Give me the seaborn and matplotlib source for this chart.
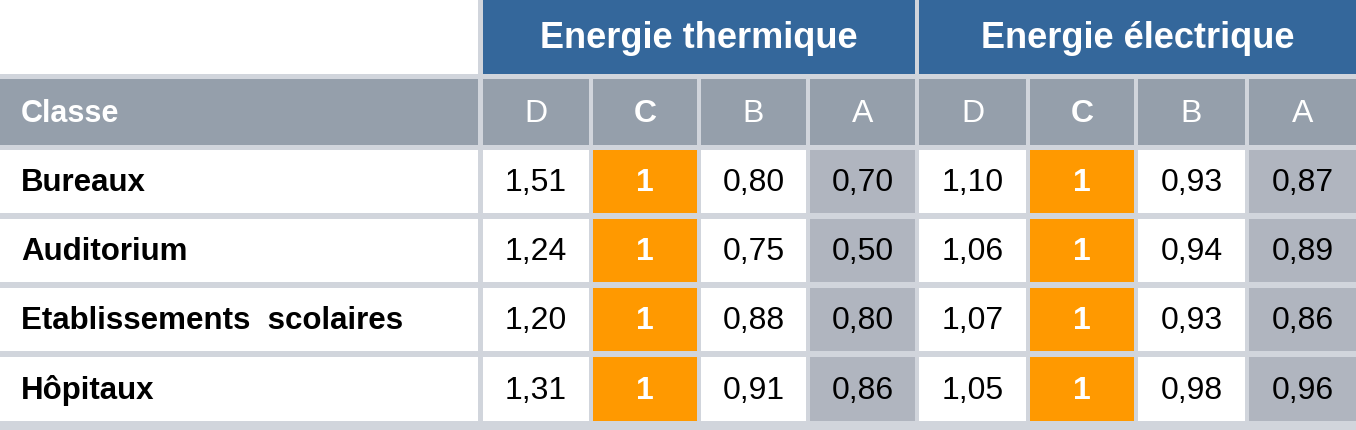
import matplotlib
matplotlib.use("Agg")
import matplotlib.pyplot as plt
from matplotlib.patches import Rectangle
import seaborn as sns

sns.set_style("white")
plt.rcParams['font.family'] = ['Liberation Sans', 'DejaVu Sans']

groups = ["Energie thermique", "Energie électrique"]
classes = ["D", "C", "B", "A"]
rows = ["Bureaux", "Auditorium", "Etablissements  scolaires", "Hôpitaux"]
thermique = [["1,51", "1", "0,80", "0,70"],
             ["1,24", "1", "0,75", "0,50"],
             ["1,20", "1", "0,88", "0,80"],
             ["1,31", "1", "0,91", "0,86"]]
electrique = [["1,10", "1", "0,93", "0,87"],
              ["1,06", "1", "0,94", "0,89"],
              ["1,07", "1", "0,93", "0,86"],
              ["1,05", "1", "0,98", "0,96"]]

grid = "#d1d5dc"
blue = "#34679b"
hgray = "#959fab"
agray = "#b0b5bf"
orange = "#ff9900"

col_edges = [(483, 589), (593, 697), (701, 806), (810, 915),
             (919, 1026), (1030, 1134), (1138, 1245), (1249, 1356)]
row_edges = [(151, 214), (220, 283), (289, 352), (358, 422)]

fig = plt.figure(figsize=(13.56, 4.31), dpi=100)
ax = fig.add_axes([0, 0, 1, 1])
ax.set_xlim(0, 1356)
ax.set_ylim(431, 0)
ax.axis("off")
fig.patch.set_facecolor(grid)

def cell(x0, x1, y0, y1, color, text="", tc="black", bold=False, size=19, ha="center"):
    ax.add_patch(Rectangle((x0, y0), x1 - x0, y1 - y0, color=color, lw=0))
    if text:
        tx = (x0 + x1) / 2 if ha == "center" else x0 + 21
        ax.text(tx, (y0 + y1) / 2 + 1, text, ha=ha, va="center", color=tc,
                fontsize=size, fontweight="bold" if bold else "normal")

# top header
cell(0, 478, 0, 75, "white")
cell(483, 915, 0, 75, blue, groups[0], "white", True, 26)
cell(919, 1356, 0, 75, blue, groups[1], "white", True, 26)

# class header
cell(0, 478, 80, 146, hgray, "Classe", "white", True, 22, ha="left")
for j, (x0, x1) in enumerate(col_edges):
    c = classes[j % 4]
    cell(x0, x1, 80, 146, hgray, c, "white", c == "C", 23)

# data rows
for i, (y0, y1) in enumerate(row_edges):
    cell(0, 478, y0, y1, "white", rows[i], "black", True, 22.5, ha="left")
    vals = thermique[i] + electrique[i]
    for j, (x0, x1) in enumerate(col_edges):
        k = j % 4
        if k == 1:
            cell(x0, x1, y0, y1, orange, vals[j], "white", True, 23)
        elif k == 3:
            cell(x0, x1, y0, y1, agray, vals[j], "black", False, 23)
        else:
            cell(x0, x1, y0, y1, "white", vals[j], "black", False, 23)

fig.savefig("out.png", dpi=100, facecolor=fig.get_facecolor())
